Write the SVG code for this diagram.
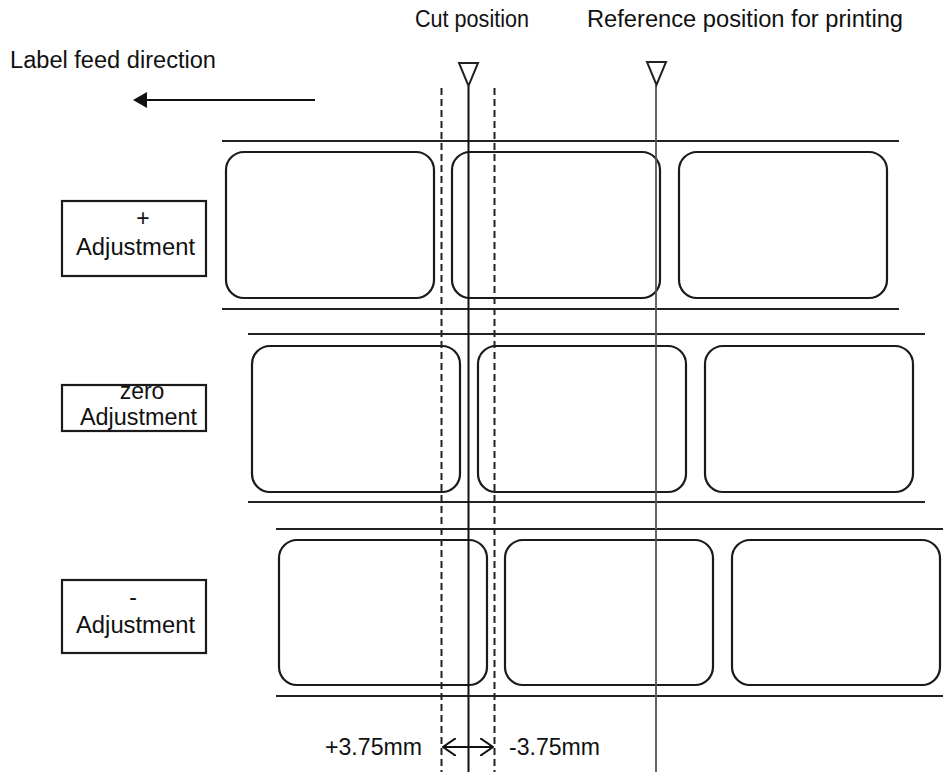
<svg xmlns="http://www.w3.org/2000/svg" width="943" height="772" viewBox="0 0 943 772">
<style>
text{font-family:"Liberation Sans",Arial,sans-serif;font-size:23px;fill:#111}
.band{stroke:#222;stroke-width:2;fill:none}
.lbl{stroke:#1a1a1a;stroke-width:2.2;fill:none}
.box{stroke:#1a1a1a;stroke-width:2.2;fill:#fff}
.dash{stroke:#222;stroke-width:2;stroke-dasharray:7 4;fill:none}
.tri{stroke:#222;stroke-width:2;fill:#fff}
</style>
<defs>
<marker id="fill" viewBox="0 0 14 16" refX="0" refY="8" markerWidth="14" markerHeight="16" markerUnits="userSpaceOnUse" orient="auto">
<path d="M14,8 L0,0 L0,16 Z" fill="#111"/>
</marker>
<marker id="open" viewBox="0 0 14 18" refX="13" refY="9" markerWidth="14" markerHeight="18" markerUnits="userSpaceOnUse" orient="auto-start-reverse">
<path d="M0,0 L13,9 L0,18" fill="none" stroke="#111" stroke-width="2"/>
</marker>
</defs>
<rect width="943" height="772" fill="#fff"/>

<g id="titles">
<text x="10" y="68" textLength="206" lengthAdjust="spacingAndGlyphs">Label feed direction</text>
<text x="415" y="27" textLength="114" lengthAdjust="spacingAndGlyphs">Cut position</text>
<text x="587" y="27" textLength="316" lengthAdjust="spacingAndGlyphs">Reference position for printing</text>
</g>

<g id="row1">
<line class="band" x1="222" y1="141" x2="899" y2="141"/>
<line class="band" x1="222" y1="309" x2="899" y2="309"/>
<rect class="lbl" x="226" y="152" width="208" height="146" rx="18"/>
<rect class="lbl" x="452" y="152" width="208" height="146" rx="18"/>
<rect class="lbl" x="679" y="152" width="208" height="146" rx="18"/>
</g>
<g id="row2">
<line class="band" x1="248" y1="334" x2="925" y2="334"/>
<line class="band" x1="248" y1="502" x2="925" y2="502"/>
<rect class="lbl" x="252" y="346" width="208" height="146" rx="18"/>
<rect class="lbl" x="478" y="346" width="208" height="146" rx="18"/>
<rect class="lbl" x="705" y="346" width="208" height="146" rx="18"/>
</g>
<g id="row3">
<line class="band" x1="276" y1="529" x2="943" y2="529"/>
<line class="band" x1="276" y1="696" x2="943" y2="696"/>
<rect class="lbl" x="279" y="540" width="208" height="145" rx="18"/>
<rect class="lbl" x="505" y="540" width="208" height="145" rx="18"/>
<rect class="lbl" x="732" y="540" width="208" height="145" rx="18"/>
</g>

<g id="box-plus">
<rect class="box" x="62" y="201" width="144" height="75"/>
<text x="143" y="226" text-anchor="middle">+</text>
<text x="76" y="255" textLength="119" lengthAdjust="spacingAndGlyphs">Adjustment</text>
</g>
<g id="box-zero">
<rect class="box" x="62" y="385" width="144" height="46"/>
<text x="142" y="399" text-anchor="middle">zero</text>
<text x="80" y="425" textLength="117" lengthAdjust="spacingAndGlyphs">Adjustment</text>
</g>
<g id="box-minus">
<rect class="box" x="62" y="580" width="144" height="73"/>
<text x="133" y="605" text-anchor="middle">-</text>
<text x="76" y="633" textLength="119" lengthAdjust="spacingAndGlyphs">Adjustment</text>
</g>

<g id="connectors">
<line x1="315" y1="100" x2="147" y2="100" stroke="#111" stroke-width="2.2" marker-end="url(#fill)"/>
<line class="dash" x1="441.5" y1="88" x2="441.5" y2="772"/>
<line class="dash" x1="494.5" y1="88" x2="494.5" y2="772"/>
<line x1="468.5" y1="86" x2="468.5" y2="772" stroke="#111" stroke-width="2"/>
<line x1="656" y1="85" x2="656" y2="772" stroke="#555" stroke-width="1.8"/>
<polygon class="tri" points="459,63 478,63 468.5,86"/>
<polygon class="tri" points="647,62 666,62 656.5,85"/>
<line x1="443" y1="747" x2="493" y2="747" stroke="#111" stroke-width="2" marker-start="url(#open)" marker-end="url(#open)"/>
</g>

<g id="dims">
<text x="325" y="755" textLength="97" lengthAdjust="spacingAndGlyphs">+3.75mm</text>
<text x="509" y="755" textLength="91" lengthAdjust="spacingAndGlyphs">-3.75mm</text>
</g>
</svg>
